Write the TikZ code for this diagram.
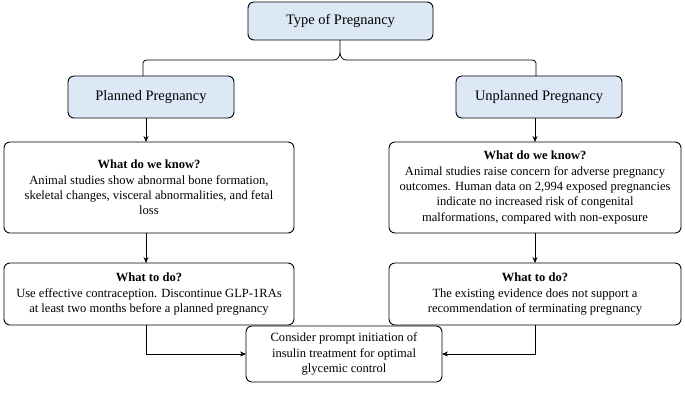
\documentclass[tikz,border=0pt]{standalone}
\usepackage{fontspec}
\setmainfont{Liberation Serif}
\usetikzlibrary{arrows.meta}
\definecolor{hdr}{HTML}{DDE8F6}
\begin{document}
\begin{tikzpicture}[x=1bp,y=-1bp,
 box/.style={draw,line width=0.9pt,rounded corners=6bp,inner sep=0pt},
 hbox/.style={box,fill=hdr},
 txt/.style={align=center,font=\fontsize{12.6}{15.5}\selectfont},
 htxt/.style={align=center,font=\fontsize{14.5}{17}\selectfont},
 arr/.style={-{Stealth[length=6bp,width=5bp]},line width=0.7pt}]
\useasboundingbox (0,0) rectangle (685,412);
\draw[hbox] (248,2) rectangle (433,40);
\node[htxt] (top) at (340.5,21) {Type of Pregnancy};
\draw[hbox] (68,76) rectangle (234,118);
\node[htxt] (pl) at (151,97) {Planned Pregnancy};
\draw[hbox] (456,76) rectangle (622,118);
\node[htxt] (un) at (539,97) {Unplanned Pregnancy};
\draw[line width=0.8pt] (143,76) -- (143,63) to[out=90,in=180] (147,60) -- (334,60) to[out=0,in=-90] (340,52) -- (340,40)
  (340,52) to[out=-90,in=180] (346,60) -- (532,60) to[out=0,in=90] (536,63) -- (536,76);
\draw[box] (4,142) rectangle (294,233);
\node[txt] (lk) at (149,187.5) {\textbf{What do we know?}\\Animal studies show abnormal bone formation,\\skeletal changes, visceral abnormalities, and fetal\\loss};
\draw[box] (389,142) rectangle (681,233);
\node[txt] (rk) at (535,187.5) {\textbf{What do we know?}\\Animal studies raise concern for adverse pregnancy\\outcomes. Human data on 2,994 exposed pregnancies\\indicate no increased risk of congenital\\malformations, compared with non-exposure};
\draw[box] (4,263) rectangle (294,325);
\node[txt] (ld) at (149,294) {\textbf{What to do?}\\Use effective contraception. Discontinue GLP-1RAs\\at least two months before a planned pregnancy};
\draw[box] (389,263) rectangle (681,325);
\node[txt] (rd) at (535,294) {\textbf{What to do?}\\The existing evidence does not support a\\recommendation of terminating pregnancy};
\draw[box] (246,326) rectangle (442,382);
\node[txt] (bt) at (344,354) {Consider prompt initiation of\\insulin treatment for optimal\\glycemic control};
\draw[arr] (146,118) -- (146,142);
\draw[arr] (535,118) -- (535,142);
\draw[arr] (146,233) -- (146,263);
\draw[arr] (535,233) -- (535,263);
\draw[arr] (146,325) -- (146,354) -- (246,354);
\draw[arr] (535,325) -- (535,354) -- (442,354);
\end{tikzpicture}
\end{document}
